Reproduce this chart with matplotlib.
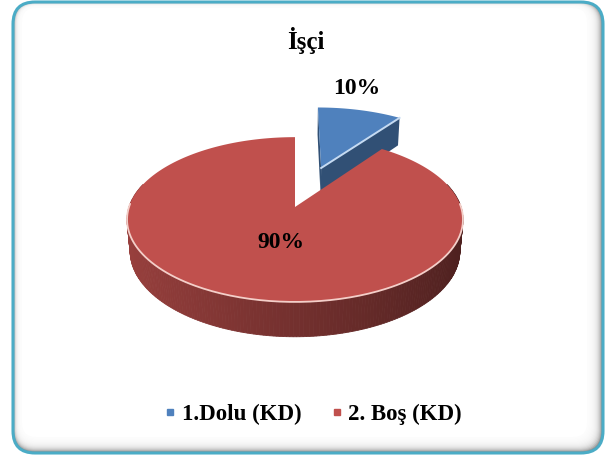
import numpy as np
import matplotlib

matplotlib.use("Agg", force=True)
import matplotlib.pyplot as plt
from matplotlib.patches import FancyBboxPatch, Polygon
from matplotlib.lines import Line2D


TITLE = "İşçi"
LABELS = ["1.Dolu (KD)", "2. Boş (KD)"]
VALUES = [10, 90]
COLORS = ["#4F81BD", "#C0504D"]
EXPLODE = [0.55, 0.0]

W, H = 606, 455
CX, CY = 295, 207          # pie centre in pixels
SCALE = 166                 # radius in pixels
ELEV = np.radians(29)
PERSP = 0.174
THICK = 0.22

plt.rcParams["font.family"] = ["Liberation Serif", "DejaVu Serif"]


def project(x, y, z):
    depth = y * np.cos(ELEV) - z * np.sin(ELEV)
    up = y * np.sin(ELEV) + z * np.cos(ELEV)
    s = SCALE / (1 + PERSP * depth)
    return CX + x * s, CY - up * s


def shade(hex_color, f):
    rgb = np.array(matplotlib.colors.to_rgb(hex_color))
    return np.clip(rgb * f, 0, 1)


def signed_area(sx, sy):
    return 0.5 * np.sum(sx * np.roll(sy, -1) - np.roll(sx, -1) * sy)


def draw_frame(ax):
    x0, y0, x1, y1 = 13, 2, 603, 453
    ax.add_patch(FancyBboxPatch((x0, y0), x1 - x0, y1 - y0,
                                boxstyle="round,pad=0,rounding_size=22",
                                fc="#747474", ec="none", zorder=0))
    n = 14
    left, top, right, bottom = 7, 4, 14, 14
    for i in range(n):
        f = (i + 1) / n
        ax.add_patch(FancyBboxPatch((x0 + left * f, y0 + top * f),
                                    (x1 - x0) - (left + right) * f,
                                    (y1 - y0) - (top + bottom) * f,
                                    boxstyle="round,pad=0,rounding_size=%.1f" % (22 - 6 * f),
                                    fc="white", ec="none", alpha=0.27, zorder=0))
    ax.add_patch(FancyBboxPatch((x0 + left + 2, y0 + top + 2),
                                (x1 - x0) - (left + right) - 4,
                                (y1 - y0) - (top + bottom) - 4,
                                boxstyle="round,pad=0,rounding_size=14",
                                fc="white", ec="none", zorder=0))
    ax.add_patch(FancyBboxPatch((x0, y0), x1 - x0, y1 - y0,
                                boxstyle="round,pad=0,rounding_size=22",
                                fc="none", ec="#4BACC6", lw=2.2, zorder=1))


def draw_slice(ax, a0, a1, d, color, z):
    mid = np.radians((a0 + a1) / 2)
    ox, oy = d * np.cos(mid), d * np.sin(mid)
    t = np.radians(np.linspace(a0, a1, max(int(abs(a1 - a0)) + 2, 4)))
    ex, ey = ox + np.cos(t), oy + np.sin(t)

    # radial faces, only the ones turned to the viewer
    for ang, sign in ((a0, -1), (a1, 1)):
        r = np.radians(ang)
        px = np.array([ox, ox + np.cos(r), ox + np.cos(r), ox])
        py = np.array([oy, oy + np.sin(r), oy + np.sin(r), oy])
        pz = np.array([0, 0, -THICK, -THICK])
        sx, sy = project(px, py, pz)
        if sign * signed_area(sx, sy) > 20:
            ax.add_patch(Polygon(np.c_[sx, sy], closed=True, fc=shade(color, 0.62),
                                 ec="none", zorder=z))

    # outer wall, front half only
    quads = []
    for i in range(len(t) - 1):
        tm = (t[i] + t[i + 1]) / 2
        if np.sin(tm) > 0.3:
            continue
        px = np.array([ex[i], ex[i + 1], ex[i + 1], ex[i]])
        py = np.array([ey[i], ey[i + 1], ey[i + 1], ey[i]])
        pz = np.array([0, 0, -THICK, -THICK])
        sx, sy = project(px, py, pz)
        f = 0.6 - 0.2 * np.cos(tm)
        quads.append((np.sin(tm), np.c_[sx, sy], shade(color, f)))
    quads.sort(key=lambda q: -q[0])
    for _, pts, c in quads:
        ax.add_patch(Polygon(pts, closed=True, fc=c, ec=c, lw=0.6, zorder=z))

    # top
    sx, sy = project(np.r_[ox, ex], np.r_[oy, ey], np.zeros(len(ex) + 1))
    ax.add_patch(Polygon(np.c_[sx, sy], closed=True, fc=color, ec="none", zorder=z + 0.5))

    # bevel highlights
    front = np.sin(t) < 0.05
    if front.any():
        hx, hy = project(ex[front], ey[front], np.zeros(front.sum()))
        ax.plot(hx, hy, color="#F4CFC9", lw=1.3, zorder=z + 0.6, solid_capstyle="round")
    if d > 0:
        r = np.radians(a1)
        lx, ly = project(np.array([ox, ox + np.cos(r)]), np.array([oy, oy + np.sin(r)]), np.zeros(2))
        ax.plot(lx, ly, color="#C6DBF2", lw=1.4, zorder=z + 0.6)


fig = plt.figure(figsize=(W / 100, H / 100), dpi=100)
ax = fig.add_axes([0, 0, 1, 1])
ax.set_xlim(0, W)
ax.set_ylim(H, 0)
ax.axis("off")

draw_frame(ax)

total = sum(VALUES)
start = 90.0
label_pos = [(357, 88), (281, 242)]
for i, (val, col, d) in enumerate(zip(VALUES, COLORS, EXPLODE)):
    a0 = start
    a1 = start - 360.0 * val / total
    draw_slice(ax, a0, a1, d, col, z=2 + i)
    start = a1
    ax.text(label_pos[i][0], label_pos[i][1], "%d%%" % round(100 * val / total),
            ha="center", va="center", fontsize=17, fontweight="bold", zorder=10)

ax.text(306, 40, TITLE, ha="center", va="center", fontsize=18, fontweight="bold", zorder=10)

handles = [Line2D([], [], ls="none", marker="s", markersize=5, color=c) for c in COLORS]
ax.legend(handles, LABELS, loc="center", bbox_to_anchor=(312 / W, 1 - 414 / H),
          ncol=2, frameon=False, prop={"weight": "bold", "size": 16.5},
          handletextpad=0.15, columnspacing=1.2, handlelength=0.7)

fig.savefig("out.png", dpi=100)
